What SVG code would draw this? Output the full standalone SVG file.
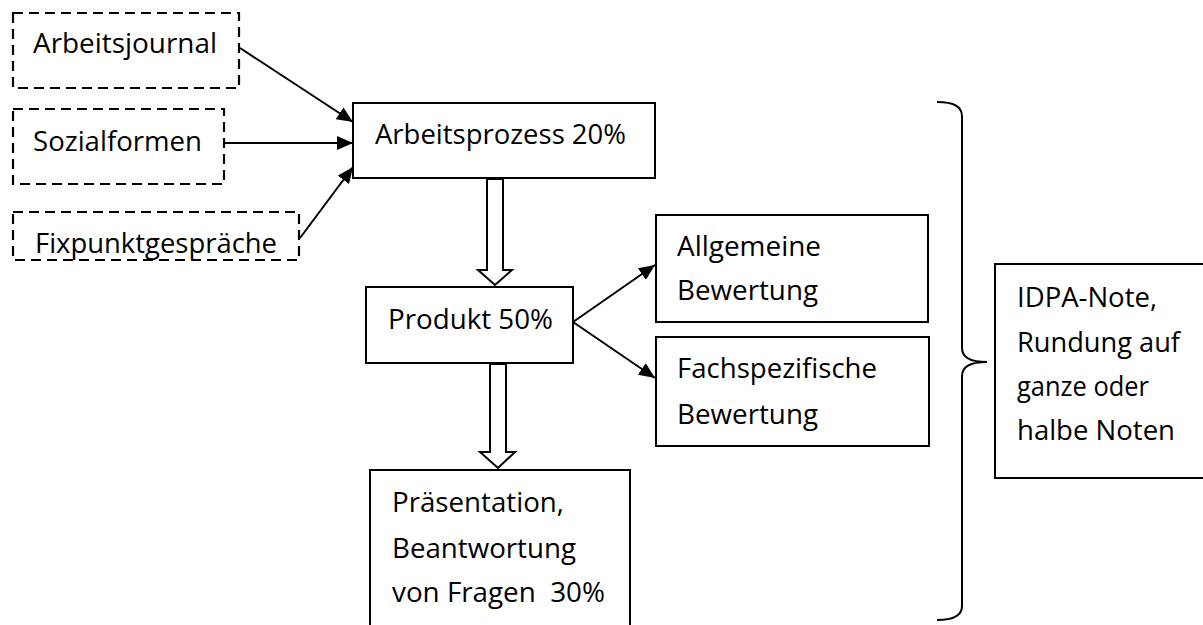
<svg xmlns="http://www.w3.org/2000/svg" width="1203" height="625" viewBox="0 0 1203 625">
<style>
.box{fill:#fff;stroke:#000;stroke-width:2}
.dash{fill:#fff;stroke:#000;stroke-width:2.2;stroke-dasharray:10 6}
.t{font-family:"Open Sans","Liberation Sans",sans-serif;font-size:27px;fill:#000}
.c{stroke:#000;stroke-width:2;fill:none}
.block{fill:#fff;stroke:#000;stroke-width:2;stroke-linejoin:miter}
</style>
<defs>
<marker id="ah" markerUnits="userSpaceOnUse" markerWidth="18" markerHeight="14" refX="16" refY="7" orient="auto">
<path d="M0,0 L16,7 L0,14 Z" fill="#000"/>
</marker>
</defs>
<rect width="1203" height="625" fill="#fff"/>
<g id="arbeitsjournal">
<rect class="dash" x="13" y="13" width="226" height="75"/>
<text class="t" x="33" y="53" textLength="184" lengthAdjust="spacingAndGlyphs">Arbeitsjournal</text>
</g>
<g id="sozialformen">
<rect class="dash" x="13" y="109" width="211" height="75"/>
<text class="t" x="33" y="151" textLength="169" lengthAdjust="spacingAndGlyphs">Sozialformen</text>
</g>
<g id="fixpunkt">
<rect class="dash" x="13" y="212" width="286" height="48"/>
<text class="t" x="35" y="253" textLength="242" lengthAdjust="spacingAndGlyphs">Fixpunktgespräche</text>
</g>
<g id="arbeitsprozess">
<rect class="box" x="353" y="103" width="302" height="75"/>
<text class="t" x="375" y="144" textLength="251" lengthAdjust="spacingAndGlyphs">Arbeitsprozess 20%</text>
</g>
<g id="produkt">
<rect class="box" x="366" y="287" width="207" height="76"/>
<text class="t" x="388" y="329" textLength="165" lengthAdjust="spacingAndGlyphs">Produkt 50%</text>
</g>
<g id="allgemeine">
<rect class="box" x="656" y="215" width="272" height="107"/>
<text class="t" x="677" y="256" textLength="144" lengthAdjust="spacingAndGlyphs">Allgemeine</text>
<text class="t" x="677" y="300" textLength="141" lengthAdjust="spacingAndGlyphs">Bewertung</text>
</g>
<g id="fachspezifische">
<rect class="box" x="656" y="337" width="273" height="109"/>
<text class="t" x="677" y="378" textLength="200" lengthAdjust="spacingAndGlyphs">Fachspezifische</text>
<text class="t" x="677" y="424" textLength="141" lengthAdjust="spacingAndGlyphs">Bewertung</text>
</g>
<g id="praesentation">
<rect class="box" x="370" y="470" width="260" height="170"/>
<text class="t" x="392" y="512" textLength="172" lengthAdjust="spacingAndGlyphs">Präsentation,</text>
<text class="t" x="392" y="558" textLength="184" lengthAdjust="spacingAndGlyphs">Beantwortung</text>
<text class="t" x="392" y="602" textLength="213" lengthAdjust="spacingAndGlyphs" xml:space="preserve">von Fragen  30%</text>
</g>
<g id="idpa">
<rect class="box" x="995" y="264" width="220" height="214"/>
<text class="t" x="1017" y="307" textLength="140" lengthAdjust="spacingAndGlyphs">IDPA-Note,</text>
<text class="t" x="1017" y="352" textLength="163" lengthAdjust="spacingAndGlyphs">Rundung auf</text>
<text class="t" x="1017" y="396" textLength="132" lengthAdjust="spacingAndGlyphs">ganze oder</text>
<text class="t" x="1017" y="440" textLength="158" lengthAdjust="spacingAndGlyphs">halbe Noten</text>
</g>
<g id="connectors">
<line class="c" x1="240" y1="48" x2="353" y2="122" marker-end="url(#ah)"/>
<line class="c" x1="224" y1="143" x2="353" y2="143" marker-end="url(#ah)"/>
<line class="c" x1="300" y1="238" x2="353" y2="167" marker-end="url(#ah)"/>
<line class="c" x1="573" y1="322" x2="655" y2="265" marker-end="url(#ah)"/>
<line class="c" x1="573" y1="322" x2="655" y2="378" marker-end="url(#ah)"/>
<polygon class="block" points="487,179 503,179 503,270 512,270 495,285 478,270 487,270"/>
<polygon class="block" points="490,364 506,364 506,452 515,452 498,468 480,452 490,452"/>
<path class="c" d="M937,102 Q962,102 962,116 L962,348 Q962,362 987,362 Q962,362 962,376 L962,606 Q962,620 937,620"/>
</g>
</svg>
